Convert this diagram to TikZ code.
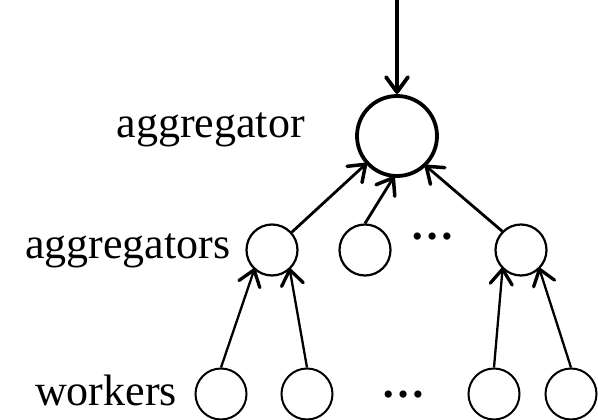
\documentclass[tikz,border=0pt]{standalone}
\usepackage{fontspec}
\setmainfont{Liberation Serif}
\usetikzlibrary{decorations.markings}
\begin{document}
\begin{tikzpicture}[x=1pt,y=-1pt,
  lbl/.style={inner sep=0pt,font=\fontsize{44}{48}\selectfont},
  bignode/.style={circle,draw,line width=3.8pt,inner sep=0pt,minimum size=80pt},
  midnode/.style={circle,draw,line width=2.2pt,inner sep=0pt,minimum size=51pt},
  leafnode/.style={circle,draw,line width=2pt,inner sep=0pt,minimum size=51pt},
  vtip/.style={postaction=decorate,decoration={markings,
     mark=at position 1 with {\draw[line width=#1,line cap=round,line join=round,solid]
        (-15pt,11pt) -- (0pt,0pt) -- (-15pt,-11pt);}}},
  toparrow/.style={line width=3.8pt,vtip=3.8pt},
  midarrow/.style={line width=2.8pt,vtip=3.5pt},
  leafarrow/.style={line width=2.3pt,vtip=3.3pt}]
\useasboundingbox (0,0) rectangle (598,420);
% nodes
\node[bignode] (top) at (397,136) {};
\node[midnode] (a1) at (272,250) {};
\node[midnode] (a2) at (365,250) {};
\node[midnode] (a3) at (521,250) {};
\node[leafnode] (w1) at (221,394) {};
\node[leafnode] (w2) at (307,394) {};
\node[leafnode] (w3) at (494,394) {};
\node[leafnode] (w4) at (571,394) {};
% labels
\node[lbl,anchor=base east] (lagg) at (305,138) {aggregator};
\node[lbl,anchor=base west] (laggs) at (25,258) {aggregators};
\node[lbl,anchor=base west] (lwork) at (35,405) {workers};
\node[lbl,anchor=base] (dots1) at (432,240) {\textbf{…}};
\node[lbl,anchor=base] (dots2) at (403,397) {\textbf{…}};
% connectors
\coordinate (in) at (397,0);
\draw[toparrow] (in) -- ([yshift=2pt]top.north);
\draw[midarrow] (a1.42) -- (top.222);
\draw[midarrow] (a2.90) -- (top.265);
\draw[midarrow] (a3.135) -- (top.314);
\draw[leafarrow] (w1.90) -- (a1.228);
\draw[leafarrow] (w2.90) -- (a1.312);
\draw[leafarrow] (w3.90) -- (a3.226);
\draw[leafarrow] (w4.90) -- (a3.314);
\end{tikzpicture}
\end{document}
